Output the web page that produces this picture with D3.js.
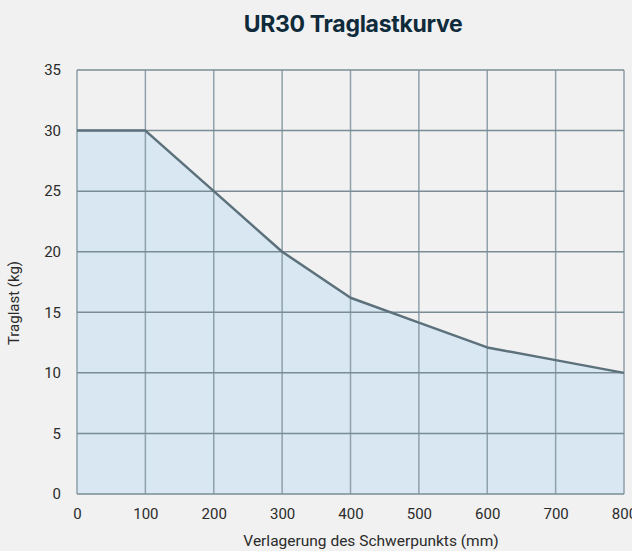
<!DOCTYPE html>
<html>
<head>
<meta charset="utf-8">
<script src="https://cdn.jsdelivr.net/npm/d3@7"></script>
<style>
	html, body { margin: 0; padding: 0; background: #f0f1f0; }
	svg { display: block; }
</style>
</head>
<body>
<script>
	// Traglast (kg) over offset of the centre of gravity (mm)
	var offsets = [0, 100, 200, 300, 400, 500, 600, 700, 800],
		payloads = [30, 30, 25, 20, 16.2, 14.15, 12.1, 11.05, 10],
		xTicks = [0, 100, 200, 300, 400, 500, 600, 700, 800],
		yTicks = [0, 5, 10, 15, 20, 25, 30, 35];

	var width = 632,
		height = 551,
		margin = {top: 70, right: 8, bottom: 57, left: 77};

	var svg = d3.select('body').append('svg')
		.attr('width', width)
		.attr('height', height);

	var x = d3.scaleLinear().domain([0, 800]).range([margin.left, width - margin.right]),
		y = d3.scaleLinear().domain([0, 35]).range([height - margin.bottom, margin.top]);

	var data = offsets.map(function(d, i) { return {x: d, y: payloads[i]}; });

	// area under the curve
	svg.append('path')
		.datum(data)
		.attr('fill', '#d8e7f2')
		.attr('d', d3.area()
			.x(function(d) { return x(d.x); })
			.y0(y(0))
			.y1(function(d) { return y(d.y); }));

	// grid
	svg.append('g')
		.selectAll('line')
		.data(xTicks)
		.join('line')
		.attr('x1', function(d) { return x(d); })
		.attr('x2', function(d) { return x(d); })
		.attr('y1', y(0))
		.attr('y2', y(35))
		.attr('stroke', '#8fa1aa')
		.attr('stroke-width', 1.5);

	svg.append('g')
		.selectAll('line')
		.data(yTicks)
		.join('line')
		.attr('x1', x(0))
		.attr('x2', x(800))
		.attr('y1', function(d) { return y(d); })
		.attr('y2', function(d) { return y(d); })
		.attr('stroke', '#7a8c95')
		.attr('stroke-width', 1.5);

	// curve
	svg.append('path')
		.datum(data)
		.attr('fill', 'none')
		.attr('stroke', '#5c717c')
		.attr('stroke-width', 2.5)
		.attr('stroke-linejoin', 'round')
		.attr('d', d3.line()
			.x(function(d) { return x(d.x); })
			.y(function(d) { return y(d.y); }));

	// axes (labels only)
	var xAxis = svg.append('g')
		.attr('transform', 'translate(0,' + (y(0) + 8) + ')')
		.call(d3.axisBottom(x).tickValues(xTicks).tickSize(0).tickPadding(6));
	var yAxis = svg.append('g')
		.attr('transform', 'translate(' + (x(0) - 12) + ',0)')
		.call(d3.axisLeft(y).tickValues(yTicks).tickSize(0).tickPadding(4));

	[xAxis, yAxis].forEach(function(g) {
		g.select('.domain').remove();
		g.selectAll('text')
			.attr('font-family', 'Roboto, sans-serif')
			.attr('font-size', 15)
			.attr('fill', '#2b2b2b');
	});

	svg.append('text')
		.attr('x', 353)
		.attr('y', 32)
		.attr('text-anchor', 'middle')
		.attr('font-family', 'Inter, sans-serif')
		.attr('font-weight', 700)
		.attr('font-size', 23)
		.attr('letter-spacing', -0.3)
		.attr('fill', '#0f2a3a')
		.text('UR30 Traglastkurve');

	svg.append('text')
		.attr('x', 371)
		.attr('y', 546)
		.attr('text-anchor', 'middle')
		.attr('font-family', 'Roboto, sans-serif')
		.attr('font-size', 15.5)
		.attr('fill', '#2b2b2b')
		.text('Verlagerung des Schwerpunkts (mm)');

	svg.append('text')
		.attr('transform', 'translate(19,303) rotate(-90)')
		.attr('text-anchor', 'middle')
		.attr('font-family', 'Roboto, sans-serif')
		.attr('font-size', 15)
		.attr('fill', '#2b2b2b')
		.text('Traglast (kg)');
</script>
</body>
</html>
